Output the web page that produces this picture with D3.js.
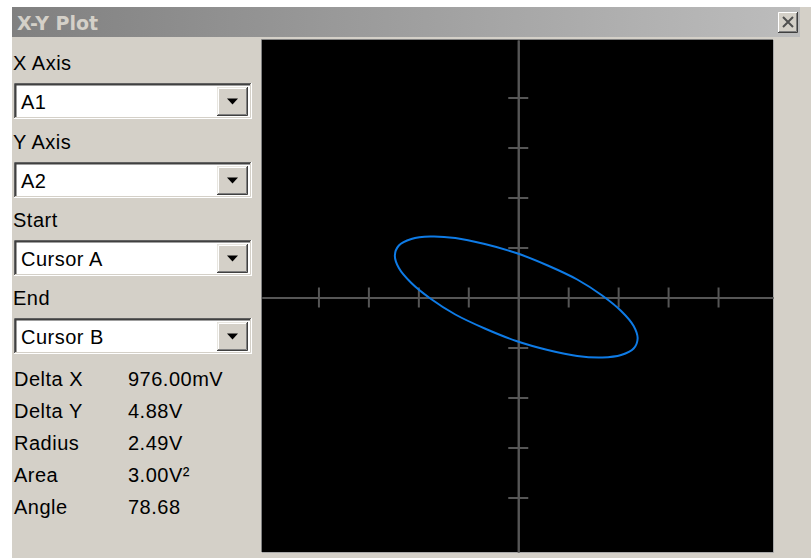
<!DOCTYPE html>
<html>
<head>
<meta charset="utf-8">
<script src="https://cdn.jsdelivr.net/npm/d3@7"></script>
<style>
  body { margin: 0; background: #ffffff; }
  svg { display: block; }
  text { font-family: "Liberation Sans", Arial, sans-serif; }
  text.ui { letter-spacing: 0.5px; }
</style>
</head>
<body>
<svg id="chart" width="811" height="558"></svg>
<script>
// Window title
const windowTitle = "X-Y Plot";

// Channel / cursor selectors
const selectorLabels = ["X Axis", "Y Axis", "Start", "End"];
const selectorValues = ["A1", "A2", "Cursor A", "Cursor B"];

// Measurement readouts
const readoutLabels = ["Delta X", "Delta Y", "Radius", "Area", "Angle"];
const readoutValues = ["976.00mV", "4.88V", "2.49V", "3.00V\u00b2", "78.68"];

// Graticule tick positions (divisions from centre)
const xTicks = [-4, -3, -2, -1, 1, 2, 3, 4];
const yTicks = [-4, -3, -2, -1, 1, 2, 3, 4];

// X-Y trace of A1 against A2 (divisions)
const traceX = [-0.04, 0.59, 1.18, 1.68, 2.06, 2.31, 2.39, 2.31, 2.06, 1.68, 1.18, 0.59,
                -0.04, -0.67, -1.26, -1.76, -2.14, -2.39, -2.47, -2.39, -2.14, -1.76, -1.26, -0.67];
const traceY = [0.89, 0.64, 0.36, 0.04, -0.27, -0.57, -0.82, -1.02, -1.15, -1.20, -1.17, -1.05,
                -0.87, -0.62, -0.34, -0.02, 0.29, 0.59, 0.84, 1.04, 1.17, 1.22, 1.19, 1.07];

const svg = d3.select("#chart");
const W = 811, H = 558;
const bg = "#d4d0c8";

// ---- window frame ----
svg.append("rect").attr("x", 12).attr("y", 7).attr("width", W - 12).attr("height", H - 7).attr("fill", bg);

const defs = svg.append("defs");
const grad = defs.append("linearGradient").attr("id", "titleGrad").attr("x1", "0").attr("x2", "1").attr("y1", "0").attr("y2", "0");
grad.append("stop").attr("offset", "0%").attr("stop-color", "#808080");
grad.append("stop").attr("offset", "100%").attr("stop-color", "#bdbdbd");

svg.append("rect").attr("x", 12).attr("y", 7).attr("width", 788).attr("height", 30).attr("fill", "url(#titleGrad)");
svg.append("text").attr("x", 17).attr("y", 30)
  .style("font-family", "'DejaVu Sans', Verdana, sans-serif")
  .attr("font-weight", "bold").attr("font-size", 19)
  .attr("fill", "#d4d0c8").text(windowTitle);

// close button
const cb = svg.append("g");
cb.append("rect").attr("x", 778).attr("y", 12).attr("width", 20).attr("height", 21).attr("fill", bg);
cb.append("path").attr("d", "M778.5,33 V12.5 H798").attr("fill", "none").attr("stroke", "#ffffff");
cb.append("path").attr("d", "M778,32.5 H797.5 V12").attr("fill", "none").attr("stroke", "#404040");
cb.append("path").attr("d", "M779,31.5 H796.5 V13").attr("fill", "none").attr("stroke", "#808080");
cb.append("path").attr("d", "M783,17 L793,27 M793,17 L783,27").attr("stroke", "#505050").attr("stroke-width", 2);

// ---- left control panel ----
const labelFont = 20;
const boxX = 14, boxW = 238, boxH = 36;
const boxTops = [83, 162, 240, 318];

selectorLabels.forEach((lab, i) => {
  const top = boxTops[i];
  svg.append("text").attr("class", "ui").attr("x", 13).attr("y", top - 20).attr("dy", "0.36em")
    .attr("font-size", labelFont).attr("fill", "#000").text(lab);

  const g = svg.append("g");
  g.append("rect").attr("x", boxX).attr("y", top).attr("width", boxW).attr("height", boxH).attr("fill", "#ffffff");
  // sunken edge
  g.append("path").attr("d", `M${boxX + 0.5},${top + boxH} V${top + 0.5} H${boxX + boxW}`).attr("fill", "none").attr("stroke", "#808080").attr("stroke-width", 1);
  g.append("path").attr("d", `M${boxX + 1.5},${top + boxH - 1} V${top + 1.5} H${boxX + boxW - 1}`).attr("fill", "none").attr("stroke", "#404040").attr("stroke-width", 2);
  g.append("path").attr("d", `M${boxX},${top + boxH - 0.5} H${boxX + boxW - 0.5} V${top}`).attr("fill", "none").attr("stroke", "#ffffff");
  g.append("path").attr("d", `M${boxX + 1},${top + boxH - 1.5} H${boxX + boxW - 1.5} V${top + 1}`).attr("fill", "none").attr("stroke", bg);

  // drop-down button
  const bx = 217, by = top + 4, bw = 31, bh = 29;
  g.append("rect").attr("x", bx).attr("y", by).attr("width", bw).attr("height", bh).attr("fill", bg);
  g.append("path").attr("d", `M${bx + 0.5},${by + bh} V${by + 0.5} H${bx + bw}`).attr("fill", "none").attr("stroke", "#e8e6e0");
  g.append("path").attr("d", `M${bx + 1.5},${by + bh - 1} V${by + 1.5} H${bx + bw - 1}`).attr("fill", "none").attr("stroke", "#ffffff");
  g.append("path").attr("d", `M${bx},${by + bh - 0.5} H${bx + bw - 0.5} V${by}`).attr("fill", "none").attr("stroke", "#404040");
  g.append("path").attr("d", `M${bx + 1},${by + bh - 1.5} H${bx + bw - 1.5} V${by + 1}`).attr("fill", "none").attr("stroke", "#808080");
  const ax = bx + bw / 2, ay = by + bh / 2;
  g.append("path").attr("d", `M${ax - 5.5},${ay - 3} H${ax + 5.5} L${ax},${ay + 3} Z`).attr("fill", "#000");

  g.append("text").attr("class", "ui").attr("x", 21).attr("y", top + boxH / 2 + 1).attr("dy", "0.36em")
    .attr("font-size", labelFont).attr("fill", "#000").text(selectorValues[i]);
});

const readoutY = d3.scalePoint().domain(readoutLabels).range([379, 507]);
readoutLabels.forEach((lab, i) => {
  svg.append("text").attr("class", "ui").attr("x", 14).attr("y", readoutY(lab)).attr("dy", "0.36em")
    .attr("font-size", labelFont).attr("fill", "#000").text(lab);
  svg.append("text").attr("class", "ui").attr("x", 128).attr("y", readoutY(lab)).attr("dy", "0.36em")
    .attr("font-size", labelFont).attr("fill", "#000").text(readoutValues[i]);
});

// ---- plot area ----
const plot = { left: 262, right: 773, top: 40, bottom: 552 };
svg.append("rect").attr("x", plot.left).attr("y", plot.top)
  .attr("width", plot.right - plot.left).attr("height", plot.bottom - plot.top).attr("fill", "#000");
svg.append("path").attr("d", `M${plot.left - 0.5},${plot.bottom} V${plot.top - 0.5} H${plot.right}`)
  .attr("fill", "none").attr("stroke", "#808080");
svg.append("path").attr("d", `M${plot.left},${plot.bottom + 0.5} H${plot.right + 0.5} V${plot.top}`)
  .attr("fill", "none").attr("stroke", "#a8a8a8");

const x = d3.scaleLinear().domain([-5.13, 5.10]).range([plot.left, plot.right]);
const y = d3.scaleLinear().domain([-5.09, 5.15]).range([plot.bottom, plot.top]);

const axisColor = "#565656";
function styleAxis(g) {
  g.selectAll("path.domain").attr("stroke", axisColor).attr("stroke-width", 2);
  g.selectAll(".tick line").attr("stroke", axisColor).attr("stroke-width", 2);
  g.selectAll(".tick text").remove();
}

// horizontal graticule axis with ticks crossing both sides
[d3.axisBottom, d3.axisTop].forEach(make => {
  svg.append("g").attr("transform", `translate(0,${y(0)})`)
    .call(make(x).tickValues(xTicks).tickSize(10).tickSizeOuter(0).tickFormat(""))
    .call(styleAxis);
});
// vertical graticule axis
[d3.axisLeft, d3.axisRight].forEach(make => {
  svg.append("g").attr("transform", `translate(${x(0)},0)`)
    .call(make(y).tickValues(yTicks).tickSize(10).tickSizeOuter(0).tickFormat(""))
    .call(styleAxis);
});

// ---- X-Y trace ----
const tracePts = traceX.map((v, i) => [v, traceY[i]]);
const line = d3.line().x(d => x(d[0])).y(d => y(d[1])).curve(d3.curveCatmullRomClosed);
svg.append("path").datum(tracePts).attr("d", line)
  .attr("fill", "none").attr("stroke", "#0e7be6").attr("stroke-width", 2);
</script>
</body>
</html>
